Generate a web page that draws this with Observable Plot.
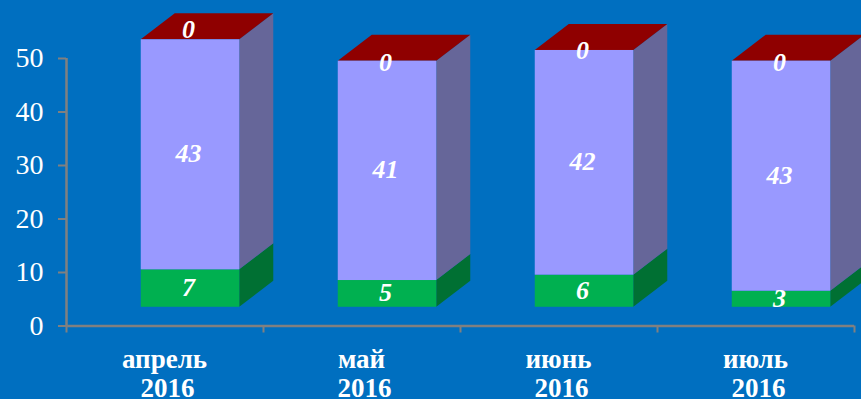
<!DOCTYPE html>
<html><head><meta charset="utf-8">
<script src="https://cdn.jsdelivr.net/npm/d3@7"></script>
<script src="https://cdn.jsdelivr.net/npm/@observablehq/plot@0.6"></script>
<style>
html,body{margin:0;padding:0;background:#006FC0;overflow:hidden}
svg{display:block}
</style></head><body><div id="chart"></div>
<script>
const months = ["апрель", "май", "июнь", "июль"];
const years = ["2016", "2016", "2016", "2016"];
const greenValues = [7, 5, 6, 3];
const purpleValues = [43, 41, 42, 43];
const redValues = [0, 0, 0, 0];
const yTicks = [0, 10, 20, 30, 40, 50];
const xTicks = [0, 1, 2, 3, 4];

// pseudo-3D projection, in scale units
const base = 3.5, depthX = 0.1726, depthY = 4.86, barW = 0.5, barOff = 0.3795;
// the source's "0" labels sit a little off the top edge
const zeroNudge = [1.7, -0.4, -0.2, -0.4];

const segs = [];
months.forEach((m, i) => {
  const g = greenValues[i], p = purpleValues[i];
  const x1 = i + barOff, x2 = x1 + barW;
  segs.push({i, name:"green", v:g, x1, x2, y1:base, y2:base+g, fill:"#00B050", side:"#007033"});
  segs.push({i, name:"purple", v:p, x1, x2, y1:base+g, y2:base+g+p, fill:"#9999FF", side:"#666699"});
});
const sides = segs.flatMap(s => [
  {k:s.i+s.name, f:s.side, x:s.x2, y1:s.y1, y2:s.y2},
  {k:s.i+s.name, f:s.side, x:s.x2+depthX, y1:s.y1+depthY, y2:s.y2+depthY}
]);
const tops = segs.filter(s => s.name==="purple").flatMap(s => [
  {k:s.i, y:s.y2, x1:s.x1, x2:s.x2},
  {k:s.i, y:s.y2+depthY, x1:s.x1+depthX, x2:s.x2+depthX}
]);
const labels = segs.map(s => ({x:(s.x1+s.x2)/2 - 0.01, y:(s.y1+s.y2)/2, t:String(s.v)}))
  .concat(months.map((m,i) => ({x:i+barOff+barW/2-0.01, y:base+greenValues[i]+purpleValues[i]+zeroNudge[i], t:String(redValues[i])})));
const monthRows = months.map((m,i) => ({x:i+0.5, t:m}));
const yearRows = years.map((m,i) => ({x:i+0.5, t:m}));

const serif = "'Liberation Serif','Times New Roman',serif";
const gray = "#808080";
const catText = {x:"x", y:0, text:"t", frameAnchor:"middle", lineAnchor:"middle", fontSize:27, fontWeight:"bold", fill:"white"};
const plot = Plot.plot({
  width: 861, height: 399,
  marginLeft: 66, marginRight: 7, marginTop: 58, marginBottom: 73.5,
  style: {background:"#006FC0", fontFamily:serif},
  x: {type:"linear", domain:[0,4], axis:null},
  y: {type:"linear", domain:[0,50], axis:null},
  marks: [
    Plot.ruleY([0], {x1:0, x2:4, stroke:gray, strokeWidth:2.5}),
    Plot.ruleX([0], {y1:0, y2:50, stroke:gray, strokeWidth:2.5}),
    Plot.axisY({ticks:yTicks, tickSize:8, tickPadding:15, stroke:gray, fill:"white", strokeWidth:2, fontSize:28, label:null, tickFormat:d=>String(d)}),
    Plot.axisX({ticks:xTicks, tickSize:7, tickFormat:()=>"", stroke:gray, strokeWidth:2, label:null}),
    Plot.text(monthRows, {...catText, dy:33, dx:-0.5}),
    Plot.text(yearRows, {...catText, dy:62, dx:2.5}),
    Plot.areaY(sides, {x:"x", y1:"y1", y2:"y2", z:"k", fill:"f"}),
    Plot.areaX(tops, {y:"y", x1:"x1", x2:"x2", z:"k", fill:"#8F0000"}),
    Plot.rect(segs, {x1:"x1", x2:"x2", y1:"y1", y2:"y2", fill:"fill", inset:0}),
    Plot.text(labels, {x:"x", y:"y", text:"t", dy:-1, fill:"white", fontSize:26, fontWeight:"bold", fontStyle:"italic"})
  ]
});
document.getElementById("chart").append(plot);
</script></body></html>
